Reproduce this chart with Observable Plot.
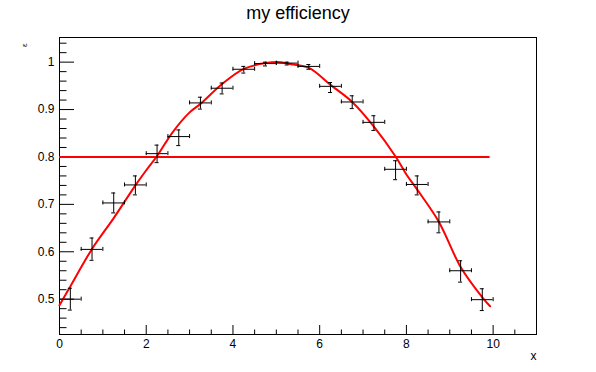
<!DOCTYPE html>
<html>
<head>
<meta charset="utf-8">
<script src="https://cdn.jsdelivr.net/npm/d3@7"></script>
<script src="https://cdn.jsdelivr.net/npm/@observablehq/plot@0.6"></script>
<style>
  html, body { margin: 0; padding: 0; background: #fff; }
  #chart svg { display: block; }
</style>
</head>
<body>
<div id="chart"></div>
<script>
// ---- data ----
const chartTitle = "my efficiency";
const xTitle = "x";
const yTitle = "ε";

const xCenters = [0.25, 0.75, 1.25, 1.75, 2.25, 2.75, 3.25, 3.75, 4.25, 4.75,
                  5.25, 5.75, 6.25, 6.75, 7.25, 7.75, 8.25, 8.75, 9.25, 9.75];
const binHalfWidth = 0.25;
const effValues = [0.500, 0.605, 0.703, 0.741, 0.807, 0.843, 0.914, 0.945, 0.985, 0.997,
                   0.998, 0.991, 0.949, 0.916, 0.873, 0.774, 0.742, 0.663, 0.560, 0.499];
const errUp  = [0.023, 0.024, 0.021, 0.019, 0.018, 0.014, 0.012, 0.011, 0.006, 0.003,
                0.002, 0.004, 0.008, 0.013, 0.014, 0.018, 0.018, 0.021, 0.021, 0.023];
const errLow = [0.023, 0.023, 0.021, 0.021, 0.019, 0.019, 0.013, 0.012, 0.008, 0.005,
                0.004, 0.006, 0.013, 0.014, 0.017, 0.022, 0.022, 0.023, 0.024, 0.023];

// fitted curve
const fitX = [0, 0.25, 0.75, 1.25, 1.75, 2.0, 2.25, 2.6, 3.0, 3.25, 3.75, 4.25, 4.75, 5.1,
              5.25, 5.75, 6.25, 6.75, 7.25, 7.75, 8.0, 8.25, 8.75, 9.25, 9.75, 9.93];
const fitY = [0.487, 0.527, 0.606, 0.671, 0.740, 0.772, 0.802, 0.851, 0.894, 0.912, 0.954, 0.986, 0.998, 1.0,
              0.997, 0.988, 0.952, 0.916, 0.864, 0.801, 0.763, 0.731, 0.663, 0.568, 0.504, 0.485];

// horizontal threshold line
const thresholdValue = [0.8];
const thresholdFrom = 0;
const thresholdTo = 9.93;

// axis ticks
const xMajorTicks = [0, 2, 4, 6, 8, 10];
const xMinorTicks = [0.5, 1, 1.5, 2.5, 3, 3.5, 4.5, 5, 5.5, 6.5, 7, 7.5, 8.5, 9, 9.5, 10.5];
const yMajorTicks = [0.5, 0.6, 0.7, 0.8, 0.9, 1.0];
const yMinorTicks = [0.44, 0.46, 0.48, 0.52, 0.54, 0.56, 0.58, 0.62, 0.64, 0.66, 0.68,
                     0.72, 0.74, 0.76, 0.78, 0.82, 0.84, 0.86, 0.88, 0.92, 0.94, 0.96, 0.98, 1.02, 1.04];
const yTickLabels = ["0.5", "0.6", "0.7", "0.8", "0.9", "1"];
const xDomain = [0, 11];
const yDomain = [0.4255, 1.052];

// ---- layout ----
const W = 596, H = 372;
const mL = 59, mT = 37, mR = 60, mB = 38;
const plotW = W - mL - mR, plotH = H - mT - mB;
const FONT = "'Liberation Sans', Arial, Helvetica, sans-serif";

const points = xCenters.map((x, i) => ({
  x, eff: effValues[i], lo: effValues[i] - errLow[i], hi: effValues[i] + errUp[i]
}));
const fit = fitX.map((x, i) => ({x, y: fitY[i]}));

const chart = Plot.plot({
  width: W, height: H,
  marginLeft: mL, marginTop: mT, marginRight: mR, marginBottom: mB,
  style: {fontFamily: FONT, color: "black", background: "white"},
  x: {domain: xDomain},
  y: {domain: yDomain},
  marks: [
    Plot.frame({stroke: "black", strokeWidth: 1}),
    // ticks inside frame
    Plot.ruleX(xMajorTicks, {x: d => d, insetTop: plotH - 9, stroke: "black"}),
    Plot.ruleX(xMinorTicks, {x: d => d, insetTop: plotH - 4.5, stroke: "black"}),
    Plot.ruleY(yMajorTicks, {y: d => d, insetRight: plotW - 15, stroke: "black"}),
    Plot.ruleY(yMinorTicks, {y: d => d, insetRight: plotW - 7.5, stroke: "black"}),
    Plot.axisX({ticks: xMajorTicks, tickSize: 0, tickPadding: 5, fontSize: 12,
                tickFormat: d => String(d), label: null}),
    Plot.axisY({ticks: yMajorTicks, tickSize: 0, tickPadding: 5, fontSize: 12,
                tickFormat: d => yTickLabels[yMajorTicks.indexOf(d)], label: null}),
    // threshold line
    Plot.ruleY(thresholdValue, {y: d => d, x1: thresholdFrom, x2: thresholdTo, stroke: "#ff0000", strokeWidth: 2}),
    // fit curve
    Plot.line(fit, {x: "x", y: "y", stroke: "#ff0000", strokeWidth: 2, curve: "catmull-rom"}),
    // error bars
    Plot.ruleY(points, {y: "eff", x1: d => d.x - binHalfWidth, x2: d => d.x + binHalfWidth, stroke: "black"}),
    Plot.ruleX(points, {x: "x", y1: "lo", y2: "hi", stroke: "black"}),
    Plot.ruleX(points, {x: d => d.x - binHalfWidth, y1: "eff", y2: "eff", insetTop: -2, insetBottom: -2, stroke: "black"}),
    Plot.ruleX(points, {x: d => d.x + binHalfWidth, y1: "eff", y2: "eff", insetTop: -2, insetBottom: -2, stroke: "black"}),
    Plot.ruleY(points, {y: "hi", x1: "x", x2: "x", insetLeft: -2, insetRight: -2, stroke: "black"}),
    Plot.ruleY(points, {y: "lo", x1: "x", x2: "x", insetLeft: -2, insetRight: -2, stroke: "black"}),
    // titles
    Plot.text([chartTitle], {text: d => d, frameAnchor: "top", lineAnchor: "middle", dy: -24, fontSize: 18, fill: "black"}),
    Plot.text([xTitle], {text: d => d, frameAnchor: "bottom-right", lineAnchor: "middle", textAnchor: "end", dy: 22, fontSize: 12, fill: "black"}),
    Plot.text([yTitle], {text: d => d, frameAnchor: "top-left", lineAnchor: "middle", textAnchor: "end", rotate: -90,
                         dx: -35, dy: 6, fontSize: 8, fill: "black"})
  ]
});
document.getElementById("chart").appendChild(chart);
</script>
</body>
</html>
